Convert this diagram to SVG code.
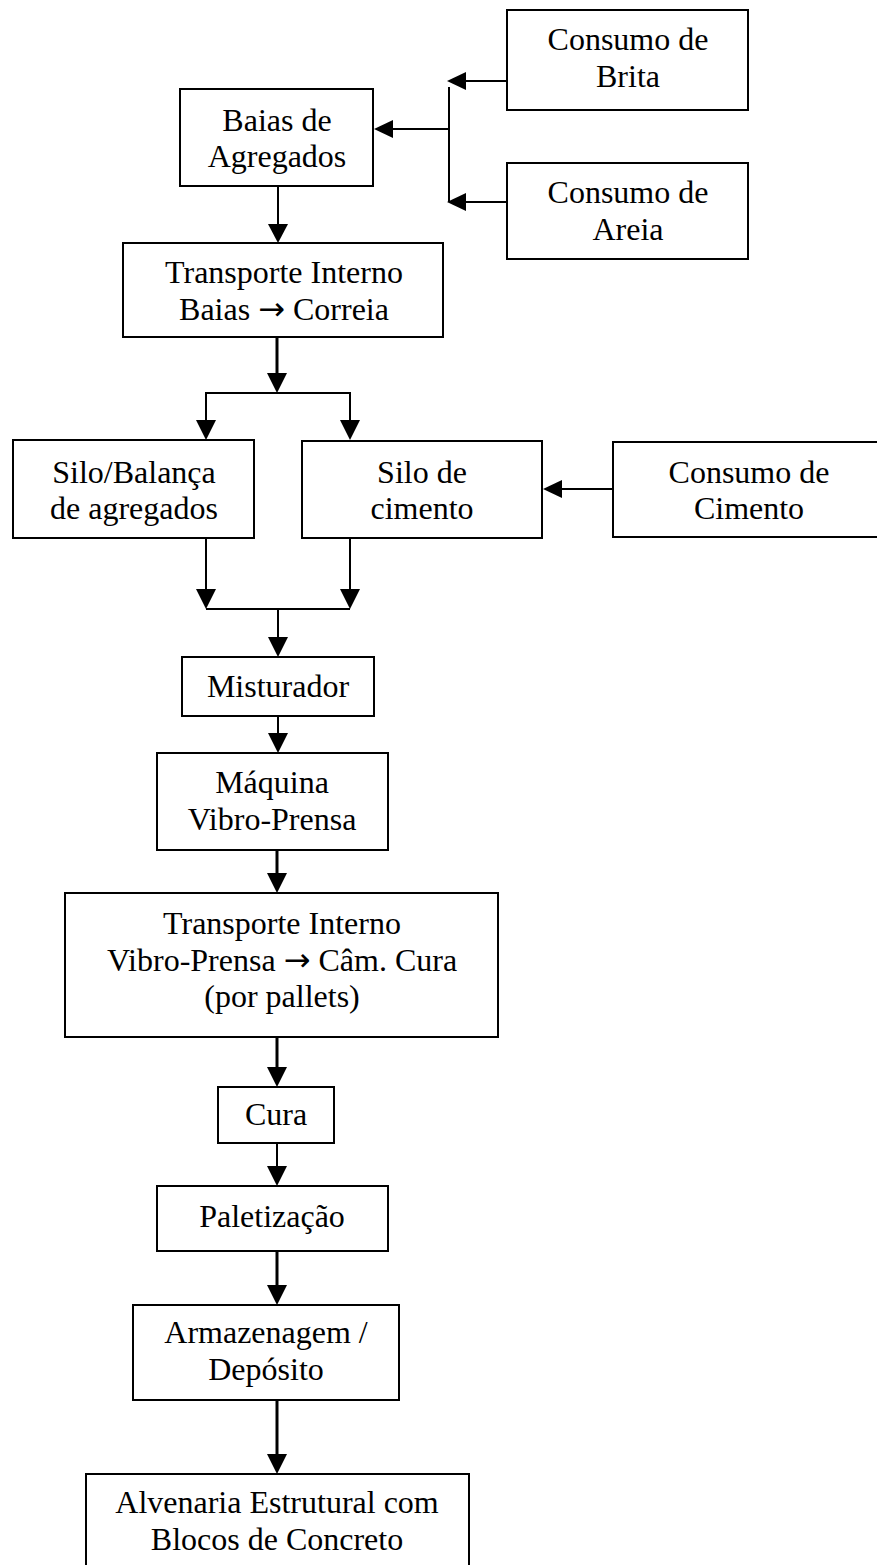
<svg xmlns="http://www.w3.org/2000/svg" width="877" height="1565" viewBox="0 0 877 1565">
  <style>
    .box { fill: #fff; stroke: #000; stroke-width: 2; }
    .lbl { font-family: 'Liberation Serif', 'DejaVu Serif', serif; font-size: 32px; fill: #000; text-anchor: middle; }
    .arw { font-family: 'DejaVu Sans', sans-serif; font-size: 32px; }
    .ln { fill: none; stroke: #000; stroke-width: 2; }
    .thick { stroke-width: 3; }
    .head { fill: #000; stroke: none; }
  </style>
  <rect width="877" height="1565" fill="#fff"/>

  <!-- connectors -->
  <g id="connectors">
    <!-- raw material feeds into aggregate bays -->
    <line class="ln" x1="507" y1="81" x2="460" y2="81"/>
    <polygon class="head" points="447,81 466,72 466,90"/>
    <line class="ln" x1="507" y1="202" x2="460" y2="202"/>
    <polygon class="head" points="447,202 466,193 466,211"/>
    <line class="ln" x1="449" y1="87" x2="449" y2="202"/>
    <line class="ln" x1="449" y1="129" x2="388" y2="129"/>
    <polygon class="head" points="374,129 393,120 393,138"/>

    <!-- bays to internal transport -->
    <line class="ln" x1="278" y1="186" x2="278" y2="230"/>
    <polygon class="head" points="278,243 268,224 288,224"/>

    <!-- split to the two silos -->
    <line class="ln thick" x1="277" y1="337" x2="277" y2="380"/>
    <polygon class="head" points="277,393 267,373 287,373"/>
    <polyline class="ln" points="206,427 206,393 350,393 350,427"/>
    <polygon class="head" points="206,440 196,420 216,420"/>
    <polygon class="head" points="350,440 340,420 360,420"/>

    <!-- cement supply -->
    <line class="ln" x1="613" y1="489" x2="556" y2="489"/>
    <polygon class="head" points="543,489 562,480 562,498"/>

    <!-- silos merge into mixer -->
    <line class="ln" x1="206" y1="538" x2="206" y2="596"/>
    <line class="ln" x1="350" y1="538" x2="350" y2="596"/>
    <polygon class="head" points="206,609 196,589 216,589"/>
    <polygon class="head" points="350,609 340,589 360,589"/>
    <line class="ln" x1="206" y1="609" x2="350" y2="609"/>
    <line class="ln" x1="278" y1="609" x2="278" y2="644"/>
    <polygon class="head" points="278,657 268,637 288,637"/>

    <!-- mixer to press -->
    <line class="ln" x1="278" y1="716" x2="278" y2="740"/>
    <polygon class="head" points="278,753 268,733 288,733"/>

    <!-- press to pallet transport -->
    <line class="ln thick" x1="277" y1="850" x2="277" y2="880"/>
    <polygon class="head" points="277,893 267,873 287,873"/>

    <!-- transport to curing -->
    <line class="ln thick" x1="277" y1="1037" x2="277" y2="1074"/>
    <polygon class="head" points="277,1087 267,1067 287,1067"/>

    <!-- curing to palletising -->
    <line class="ln" x1="277" y1="1143" x2="277" y2="1173"/>
    <polygon class="head" points="277,1186 267,1166 287,1166"/>

    <!-- palletising to storage -->
    <line class="ln thick" x1="277" y1="1251" x2="277" y2="1292"/>
    <polygon class="head" points="277,1305 267,1285 287,1285"/>

    <!-- storage to masonry -->
    <line class="ln thick" x1="277" y1="1400" x2="277" y2="1460"/>
    <polygon class="head" points="277,1474 267,1454 287,1454"/>
  </g>

  <!-- nodes -->
  <g id="consumo-brita">
    <rect class="box" x="507" y="10" width="241" height="100"/>
    <text class="lbl" x="628" y="50">Consumo de</text>
    <text class="lbl" x="628" y="87">Brita</text>
  </g>
  <g id="consumo-areia">
    <rect class="box" x="507" y="163" width="241" height="96"/>
    <text class="lbl" x="628" y="203">Consumo de</text>
    <text class="lbl" x="628" y="240">Areia</text>
  </g>
  <g id="baias">
    <rect class="box" x="180" y="89" width="193" height="97"/>
    <text class="lbl" x="277" y="131">Baias de</text>
    <text class="lbl" x="277" y="167">Agregados</text>
  </g>
  <g id="transporte-baias">
    <rect class="box" x="123" y="243" width="320" height="94"/>
    <text class="lbl" x="284" y="283">Transporte Interno</text>
    <text class="lbl" x="284" y="320">Baias <tspan class="arw">→</tspan> Correia</text>
  </g>
  <g id="silo-balanca">
    <rect class="box" x="13" y="440" width="241" height="98"/>
    <text class="lbl" x="134" y="483">Silo/Balança</text>
    <text class="lbl" x="134" y="519">de agregados</text>
  </g>
  <g id="silo-cimento">
    <rect class="box" x="302" y="441" width="240" height="97"/>
    <text class="lbl" x="422" y="483">Silo de</text>
    <text class="lbl" x="422" y="519">cimento</text>
  </g>
  <g id="consumo-cimento">
    <rect class="box" x="613" y="442" width="280" height="95"/>
    <text class="lbl" x="749" y="483">Consumo de</text>
    <text class="lbl" x="749" y="519">Cimento</text>
  </g>
  <g id="misturador">
    <rect class="box" x="182" y="657" width="192" height="59"/>
    <text class="lbl" x="278" y="697">Misturador</text>
  </g>
  <g id="vibro-prensa">
    <rect class="box" x="157" y="753" width="231" height="97"/>
    <text class="lbl" x="272" y="793">Máquina</text>
    <text class="lbl" x="272" y="830">Vibro-Prensa</text>
  </g>
  <g id="transporte-cura">
    <rect class="box" x="65" y="893" width="433" height="144"/>
    <text class="lbl" x="282" y="934">Transporte Interno</text>
    <text class="lbl" x="282" y="971">Vibro-Prensa <tspan class="arw">→</tspan> Câm. Cura</text>
    <text class="lbl" x="282" y="1007">(por pallets)</text>
  </g>
  <g id="cura">
    <rect class="box" x="218" y="1087" width="116" height="56"/>
    <text class="lbl" x="276" y="1125">Cura</text>
  </g>
  <g id="paletizacao">
    <rect class="box" x="157" y="1186" width="231" height="65"/>
    <text class="lbl" x="272" y="1227">Paletização</text>
  </g>
  <g id="armazenagem">
    <rect class="box" x="133" y="1305" width="266" height="95"/>
    <text class="lbl" x="266" y="1343">Armazenagem /</text>
    <text class="lbl" x="266" y="1380">Depósito</text>
  </g>
  <g id="alvenaria">
    <rect class="box" x="86" y="1474" width="383" height="100"/>
    <text class="lbl" x="277" y="1513">Alvenaria Estrutural com</text>
    <text class="lbl" x="277" y="1550">Blocos de Concreto</text>
  </g>
</svg>
